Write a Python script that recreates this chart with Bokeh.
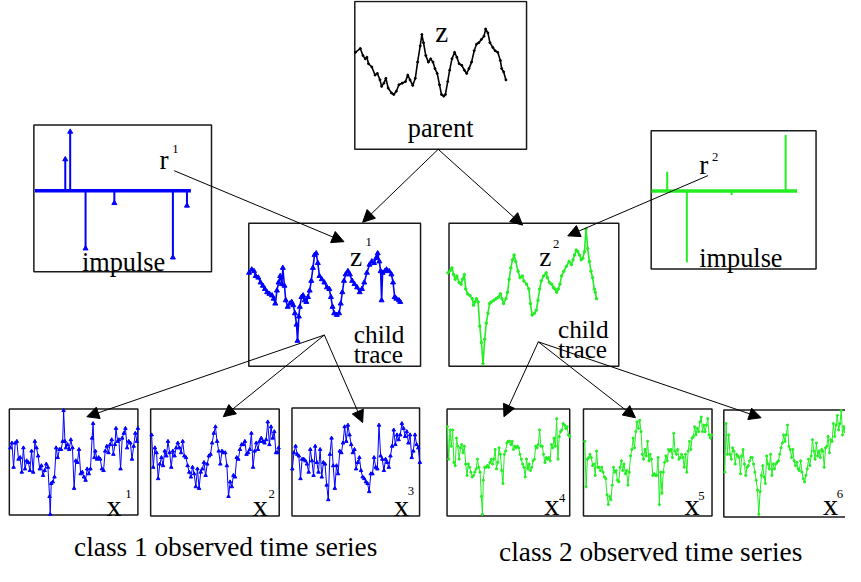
from bokeh.plotting import figure
from bokeh.models import Range1d, Arrow, NormalHead, Label
from bokeh.embed import file_html
from bokeh.resources import INLINE

BLUE = "#0000ff"
GREEN = "#22ee22"
FONT = "Liberation Serif"

# ---------------- data (readings, per-panel units) -------------
parent_t = [5,20,28,35,40,45,55,65,72,80,85,92,98,105,115,122,130,138,148,158,165,172,180,188,195,203,208,213,220,228,
            235,242,248,255,262,268,275,280,287,293,300,308,315,322,330,338,345,352,360,368,375,382,390,398,403,410,416,425,432,440,
            448,452,458,465]
parent_y = [160,148,170,180,175,195,205,230,225,245,265,255,240,270,285,290,280,260,255,250,230,245,262,240,190,140,105,130,170,190,
            180,190,210,225,260,290,295,290,250,215,180,160,175,195,200,215,225,210,190,155,135,130,120,110,88,100,130,145,155,160,
            185,210,220,245]

z1_t = [10,18,25,30,38,45,52,58,65,72,80,85,90,95,100,105,110,113,118,122,128,135,140,145,150,155,158,162,165,170,
        175,180,185,190,195,200,205,210,215,220,225,232,240,248,255,260,265,270,278,285,290,295,300,305,312,318,325,332,340,348,
        355,362,370,378,385,392,398,403,408,412,415,418,425,430,438,445,450,455,460,468,472]
z1_y = [165,155,160,175,180,195,205,215,225,230,235,245,260,220,195,175,200,150,205,250,270,260,255,265,290,325,375,300,270,240,
        235,250,255,240,220,190,150,110,105,135,175,185,195,210,215,240,270,290,295,290,260,225,190,170,160,170,190,200,210,225,
        215,195,165,140,130,135,120,105,130,160,250,165,160,155,160,170,195,240,245,250,255]

z2_t = [18,25,30,35,40,45,52,58,62,68,72,78,85,92,96,100,105,110,115,120,125,130,135,140,145,150,158,165,172,178,
        183,188,195,200,205,210,215,220,225,232,238,245,250,258,265,270,275,282,288,293,298,303,310,318,322,328,335,340,345,350,
        355,360,365,372,380,388,395,400,405,410,415,420,425,430,435,440,445,450,455,460,465,468,472]
z2_y = [165,158,150,170,185,175,195,200,185,170,215,230,235,245,265,255,245,255,330,380,445,370,320,290,260,255,250,245,240,230,
        245,260,245,225,185,150,125,110,130,160,180,175,190,200,215,260,295,290,280,250,215,190,175,165,180,195,200,210,215,225,
        215,200,175,160,145,130,140,125,110,95,100,110,125,120,100,30,90,130,160,180,215,225,245]

r1_start, r1_end, r1_base = 15, 492, 212
r1_t = [108, 123, 170, 258, 437, 480]
r1_y = [115, 30, 390, 250, 418, 258]

r2_start, r2_end, r2_base = 10, 455, 198
r2_t = [58, 118, 255, 420]
r2_y = [138, 418, 210, 25]

x1_t = [30,35,40,45,50,55,60,65,70,75,80,85,90,95,100,105,110,115,120,125,130,135,140,145,150,152,155,160,165,170,
        175,180,185,190,193,197,200,205,210,215,220,225,230,235,240,245,250,255,260,265,270,275,280,283,287,290,295,300,305,310,
        315,320,325,330,335,340,345,350,353,358,362,367,372,377,382,387,392,397,402,407,412,417,420]
x1_y = [150,135,210,135,130,185,180,225,150,215,190,195,220,160,225,130,150,175,215,205,235,220,200,210,300,355,260,255,240,150,
        180,155,155,130,35,130,150,140,155,125,150,275,190,195,155,230,225,240,250,215,230,215,120,75,180,160,185,180,185,215,
        220,160,145,165,140,125,170,140,90,130,125,215,120,105,90,150,130,135,185,145,105,130,90]

x2_t = [462] + list(range(467, 848, 5)) + [850]
x2_y = [110,
        210,150,165,245,200,180,205,160,175,130,
        165,210,160,175,150,135,150,165,130,
        175,180,205,225,240,210,230,270,215,275,
        225,215,195,235,200,175,170,135,105,85,
        130,160,200,160,165,165,205,300,255,270,
        235,240,180,185,155,140,140,130,170,165,
        155,105,210,160,135,155,130,120,130,135,
        125,70,140,85,120,100,165,165,
        150]

x3_t = list(range(22, 413, 5))
x3_y = [215,165,145,170,175,245,185,185,190,200,225,155,190,235,145,195,225,155,240,195,
        200,265,310,170,120,205,275,205,230,160,165,135,85,130,80,110,140,165,155,215,
        195,180,220,240,245,255,260,285,230,230,180,210,215,80,175,185,220,185,195,210,
        175,145,95,140,110,125,110,75,90,115,100,135,110,180,160,110,140,150,195]

x4_t = list(range(16, 121, 4)) + [123, 126] + list(range(130, 391, 4))
x4_y = [115,215,125,175,125,225,235,150,175,215,180,170,195,175,230,265,230,240,255,270,265,255,245,215,240,255,330,
        385,280,
        240,240,235,240,225,215,230,215,185,245,225,180,200,250,290,200,190,165,160,160,
        170,160,185,175,180,175,180,200,215,230,240,270,215,245,230,250,240,220,215,175,
        180,170,125,175,175,200,225,210,215,210,220,170,180,150,175,90,215,145,130,125,
        105,110,120,115,140,145]

x5_t = list(range(16, 405, 4))
x5_y = [160,300,215,210,200,210,235,230,265,190,240,240,250,240,255,270,275,325,355,330,
        340,295,240,255,250,280,285,240,220,250,230,260,250,295,255,205,185,150,180,130,
        100,120,95,130,200,215,185,205,160,220,200,215,265,260,265,265,210,355,255,320,
        255,225,205,220,185,190,185,210,135,190,200,185,215,210,200,210,240,200,255,190,
        160,185,150,145,115,140,120,130,100,85,130,110,130,110,90,140,150,140]

x6_t = list(range(24, 397, 4))
x6_y = [255,105,200,140,200,215,180,190,230,200,205,210,260,205,185,230,265,240,235,220,
        210,210,230,255,280,310,385,315,265,235,270,290,205,230,245,200,265,230,245,230,
        225,220,200,180,165,140,160,140,110,175,185,210,185,220,235,225,245,250,220,255,
        275,285,265,245,215,235,205,155,190,215,165,205,190,210,185,190,240,180,175,145,
        195,155,160,105,145,110,80,125,105,65,140,115,130,145]

# ---------------- figure: whole reference sheet (861 x 582) fitted into 845 x 566 ----------------
W_REF, H_REF = 861, 582
W, H = 845, 566
FS = 0.975  # font scale for the fit
p = figure(width=W, height=H, x_range=Range1d(0, W_REF), y_range=Range1d(H_REF, 0),
           output_backend="svg", toolbar_location=None, min_border=0)
p.axis.visible = False
p.grid.visible = False
p.outline_line_color = None
p.background_fill_color = "white"

# panel scales: each panel's readings are in its own units (3 units per sheet pixel)
origins = {"par": (360, 0), "r1": (30, 125), "z1": (250, 225), "z2": (450, 225), "r2": (660, 130),
           "x12": (0, 410), "x3": (290, 410), "x4": (450, 400), "x5": (590, 400), "x6": (730, 400)}
exx, exy = {}, {}
for name, (ox, oy) in origins.items():
    exx[name] = Range1d(3 * (0 - ox), 3 * (W_REF - ox))
    exy[name] = Range1d(3 * (H_REF - oy), 3 * (0 - oy))
p.extra_x_ranges = exx
p.extra_y_ranges = exy

# ---------------- boxes ----------------
boxes = [(361, 536, 1, 153), (34, 215, 128, 279), (253, 428, 229, 376), (457, 630, 229, 376),
         (663, 831, 134, 276), (9, 140, 420, 529), (153, 284, 420, 530), (297, 427, 419, 530),
         (455, 580, 420, 530), (594, 725, 420, 530), (737, 875, 421, 531)]
p.quad(left=[b[0] for b in boxes], right=[b[1] for b in boxes], top=[b[2] for b in boxes],
       bottom=[b[3] for b in boxes], fill_color=None, line_color="#1a1a1a", line_width=1.5)

def series(t, y, rng, color, marker, msize, lw=1.2):
    n = min(len(t), len(y))
    t, y = t[:n], y[:n]
    p.line(t, y, x_range_name=rng, y_range_name=rng, line_color=color, line_width=lw)
    p.scatter(t, y, x_range_name=rng, y_range_name=rng, marker=marker, size=msize,
              line_color=color, fill_color=color)

series(parent_t, parent_y, "par", "black", "circle", 2, 1.6)
series(z1_t, z1_y, "z1", BLUE, "triangle", 5, 1.6)
series(z2_t, z2_y, "z2", GREEN, "circle", 2.5, 1.6)
series(x1_t, x1_y, "x12", BLUE, "triangle", 3.5, 1.0)
series(x2_t, x2_y, "x12", BLUE, "triangle", 3.5, 1.0)
series(x3_t, x3_y, "x3", BLUE, "triangle", 3.5, 1.0)
series(x4_t, x4_y, "x4", GREEN, "circle", 2.2, 1.0)
series(x5_t, x5_y, "x5", GREEN, "circle", 2.2, 1.0)
series(x6_t, x6_y, "x6", GREEN, "circle", 2.2, 1.0)

# impulses
p.segment(x0=[r1_start], y0=[r1_base], x1=[r1_end], y1=[r1_base], x_range_name="r1", y_range_name="r1",
          line_color=BLUE, line_width=3.5)
p.segment(x0=r1_t, y0=[r1_base] * len(r1_t), x1=r1_t, y1=r1_y, x_range_name="r1", y_range_name="r1",
          line_color=BLUE, line_width=2)
p.scatter(r1_t, r1_y, x_range_name="r1", y_range_name="r1", marker="triangle", size=5,
          line_color=BLUE, fill_color=BLUE)
p.segment(x0=[r2_start], y0=[r2_base], x1=[r2_end], y1=[r2_base], x_range_name="r2", y_range_name="r2",
          line_color=GREEN, line_width=3.5)
p.segment(x0=r2_t, y0=[r2_base] * len(r2_t), x1=r2_t, y1=r2_y, x_range_name="r2", y_range_name="r2",
          line_color=GREEN, line_width=2)

# ---------------- arrows ----------------
arrows = [(446, 153, 369, 228), (446, 153, 532, 231), (177, 175, 350, 248), (721, 180, 578, 242),
          (330, 344, 88, 428), (330, 344, 227, 428), (330, 344, 369, 434),
          (548, 351, 513, 428), (548, 351, 647, 429), (548, 351, 775, 429)]
for xs, ys, xe, ye in arrows:
    p.add_layout(Arrow(x_start=xs, y_start=ys, x_end=xe, y_end=ye, line_color="black", line_width=1,
                       end=NormalHead(size=12, fill_color="black", line_color="black", line_width=1)))

# ---------------- texts ----------------
texts = [("z", 443, 32, 30), ("parent", 415, 132, 27),
         ("r", 162, 164, 28), ("1", 175, 153, 13), ("impulse", 83, 269, 27),
         ("z", 356, 264, 28), ("1", 372, 248, 13), ("child", 360, 343, 26), ("trace", 360, 363, 26),
         ("z", 549, 264, 28), ("2", 563, 250, 13), ("child", 568, 338, 26), ("trace", 568, 358, 26),
         ("r", 712, 169, 28), ("2", 725, 161, 13), ("impulse", 712, 265, 27),
         ("x", 108, 520, 31), ("1", 127, 507, 13), ("x", 257, 520, 31), ("2", 273, 507, 13),
         ("x", 401, 520, 31), ("3", 415, 504, 13), ("x", 554, 519, 31), ("4", 569, 512, 13),
         ("x", 697, 519, 31), ("5", 711, 510, 13), ("x", 838, 519, 31), ("6", 852, 507, 13),
         ("class 1 observed time series", 75, 562, 28), ("class 2 observed time series", 508, 567, 28)]
for s, x, y, fs in texts:
    p.add_layout(Label(x=x, y=y, text=s, text_font=FONT, text_font_size=f"{fs * FS:.1f}px",
                       text_baseline="alphabetic", text_align="left", text_color="black"))

open("out.html", "w").write(file_html(p, INLINE))
